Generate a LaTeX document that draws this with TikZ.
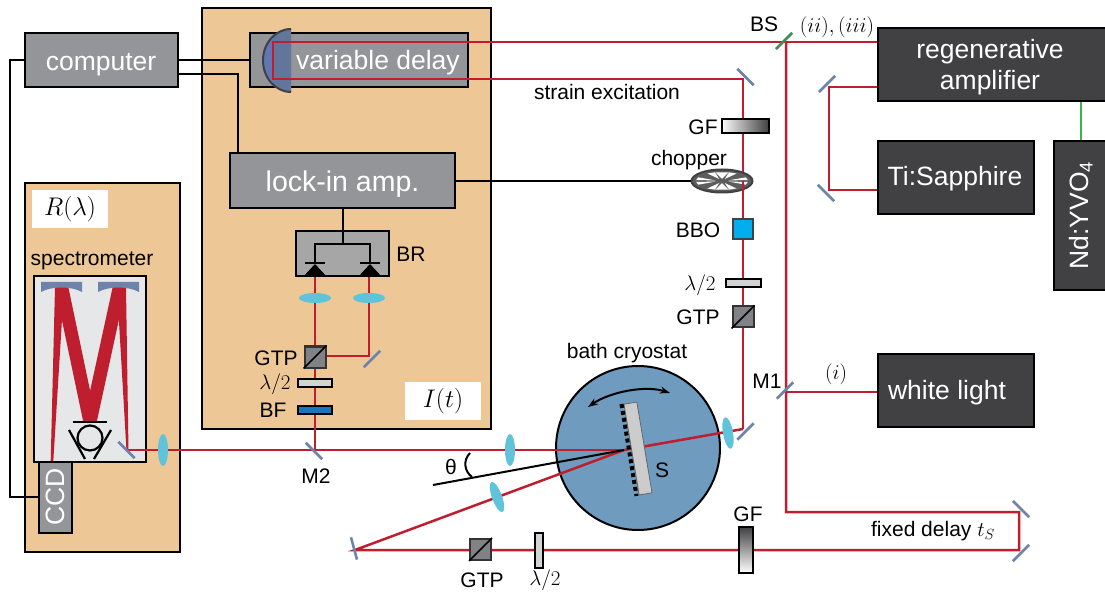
\documentclass[tikz,border=0pt]{standalone}
\usepackage{fix-cm}
\usepackage{fontspec}
\setmainfont{Liberation Sans}
\usetikzlibrary{shapes.geometric,arrows.meta}

\definecolor{panelorange}{HTML}{EDC896}
\definecolor{boxgray}{HTML}{939598}
\definecolor{boxdark}{HTML}{414042}
\definecolor{beamred}{HTML}{BE1E2D}
\definecolor{mirrorblue}{HTML}{6D83AC}
\definecolor{lenscyan}{HTML}{5FC3DA}
\definecolor{cryoblue}{HTML}{6F9BBF}
\definecolor{specgray}{HTML}{E6E7E8}
\definecolor{platelight}{HTML}{D1D3D4}
\definecolor{cubegray}{HTML}{808285}
\definecolor{pumpgreen}{HTML}{39B54A}
\definecolor{splitgreen}{HTML}{3E8E4E}
\definecolor{filterblue}{HTML}{1B75BC}
\definecolor{bbocyan}{HTML}{00AEEF}

\tikzset{
  panel/.style={draw=black, line width=2pt, fill=panelorange, inner sep=0pt},
  graybox/.style={draw=black, line width=2pt, fill=boxgray, inner sep=0pt, text=white,
    font=\fontsize{26.5}{31}\selectfont},
  darkbox/.style={draw=black, line width=2pt, fill=boxdark, inner sep=0pt, text=white,
    align=center, font=\fontsize{26.5}{31}\selectfont},
  boxtext/.style={text=white, align=center, inner sep=0pt, font=\fontsize{26.5}{31.5}\selectfont},
  whitebox/.style={fill=white, inner sep=0pt, font=\fontsize{25.5}{29}\selectfont},
  lbl/.style={inner sep=0pt, font=\fontsize{21}{25}\selectfont},
  beam/.style={draw=beamred, line width=2.5pt},
  wire/.style={draw=black, line width=2pt},
  mirror/.style={fill=mirrorblue, inner sep=0pt, minimum width=23pt, minimum height=2.6pt},
  lens/.style={ellipse, fill=lenscyan, inner sep=0pt, minimum width=32pt, minimum height=10pt},
  plate/.style={draw=black, line width=2pt, fill=platelight, inner sep=0pt},
  cube/.style={draw=black!80, line width=2pt, fill=cubegray, inner sep=0pt,
    minimum width=21pt, minimum height=21pt},
}

\begin{document}
\begin{tikzpicture}[x=1pt, y=-1pt]
    \clip (0,0) rectangle (1105,593);

    % ===== PANOURI =====
    \node[panel, minimum width=289pt, minimum height=421pt] (timePanel) at (346.5,218.5) {};
    \node[panel, minimum width=155pt, minimum height=369pt] (specPanel) at (102.5,367.5) {};
    \node[whitebox, minimum width=76pt, minimum height=38pt] (rLabel) at (70,209) {$R(\lambda)$};
    \node[whitebox, minimum width=76pt, minimum height=38pt] (iLabel) at (443,401) {$I(t)$};

    % ===== CUTII =====
    \node[graybox, minimum width=153pt, minimum height=54pt] (computer) at (101.5,60) {};
    \node[boxtext] (computerText) at (101,65) {computer};
    \node[graybox, minimum width=218pt, minimum height=54pt] (delayBox) at (359,60) {};
    \node[graybox, minimum width=225pt, minimum height=55pt] (lockin) at (342.5,180.5) {};
    \node[boxtext, font=\fontsize{28.5}{33}\selectfont] (lockinText) at (342.5,184) {lock-in amp.};
    \node[darkbox, minimum width=240pt, minimum height=73pt] (amp) at (998,64.5) {};
    \node[boxtext] (ampText) at (990,67) {regenerative\\amplifier};
    \node[darkbox, minimum width=156pt, minimum height=73pt] (tisa) at (956,177.5) {};
    \node[boxtext] (tisaText) at (955,178.5) {Ti:Sapphire};
    \node[darkbox, minimum width=70pt, minimum height=149pt] (ndyvo) at (1089,215.5) {};
    \node[boxtext, rotate=90] (ndText) at (1081,215.5) {Nd:YVO\textsubscript{4}};
    \node[darkbox, minimum width=156pt, minimum height=73pt] (white) at (956,390.5) {};
    \node[boxtext] (whiteText) at (947,392.5) {white light};

    % oglinda retro din variable delay
    \coordinate (retroTop) at (291,29);
    \fill[mirrorblue!90!blue] (retroTop) arc[start angle=270, end angle=90, x radius=28, y radius=31.5] -- cycle;
    \begin{scope}
      \clip (274,25) rectangle (291,96);
      \fill[mirrorblue!90!black] (retroTop) arc[start angle=270, end angle=90, x radius=28, y radius=31.5] -- cycle;
    \end{scope}
    \draw[draw=boxdark, line width=2pt] (retroTop) arc[start angle=270, end angle=90, x radius=28, y radius=31.5];
    \node[boxtext] (delayText) at (378,62.5) {variable delay};

    % ===== CRIOSTAT =====
    \node[circle, draw=black, line width=2pt, fill=cryoblue, minimum size=164pt, inner sep=0pt] (cryostat) at (638,448) {};
    \node[lbl] (cryoText) at (627,353) {bath cryostat};

    % ===== SPECTROMETRU =====
    \node[draw=black, line width=2pt, fill=specgray, minimum width=112pt, minimum height=186pt, inner sep=0pt] (spec) at (90,369) {};
    \node[lbl] (specText) at (92,261) {spectrometer};
    \node[graybox, minimum width=33pt, minimum height=71pt] (ccd) at (55.5,497.5) {};
    \node[boxtext, rotate=90] (ccdText) at (55.5,497) {CCD};

    % fascicul larg in spectrometru
    \fill[beamred] (55,287) -- (64,287) -- (53.3,461) -- (50.7,461) -- cycle;
    \fill[beamred] (55,287) -- (68.3,287) -- (96.7,422) -- (83.3,422) -- cycle;
    \fill[beamred] (112.7,287) -- (126,287) -- (96.7,422) -- (83.3,422) -- cycle;
    \fill[beamred] (117,287) -- (126,287) -- (128.5,451) -- (126.5,451) -- cycle;

    % oglinzi concave
    \foreach \mx in {61.5,118.5} {
      \fill[mirrorblue] (\mx-20.5,282) -- (\mx+20.5,282) -- (\mx+20.5,292)
        .. controls (\mx+10,286) and (\mx-10,286) .. (\mx-20.5,292) -- cycle;
    }

    % grating-uri
    \draw[line width=2.2pt] (90,438) circle[radius=12.5];
    \draw[line width=2.2pt] (73,422) -- (107,422);
    \draw[line width=2.2pt] (69,430) -- (85,459);
    \draw[line width=2.2pt] (111,430) -- (94,459);

    % ===== FASCICULE =====
    \coordinate (ampTop) at (amp.west |- 0,42);
    \coordinate (retroA) at (273,42);
    \coordinate (retroB) at (273,79);
    \coordinate (pumpTop) at (743,79);
    \coordinate (pumpChop) at (743,181);
    \coordinate (pumpBot) at (743,429);
    \coordinate (samplePt) at (624,450);
    \coordinate (splitBS) at (786,42);
    \coordinate (fixedA) at (786,512);
    \coordinate (fixedB) at (1019,512);
    \coordinate (fixedC) at (1019,550);
    \coordinate (probeL) at (355,550);
    \coordinate (ampLow) at (amp.west |- 0,87);
    \coordinate (regenA) at (829,87);
    \coordinate (regenB) at (829,190);
    \coordinate (tisaOut) at (tisa.west |- 0,190);
    \coordinate (whiteOut) at (white.west |- 0,392);
    \coordinate (whiteM) at (786,392);
    \coordinate (specIn) at (128,450);
    \coordinate (splitM2) at (315,450);
    \coordinate (diodeL) at (315,276);
    \coordinate (diodeR) at (369,276);
    \coordinate (gtpL) at (315,356);
    \coordinate (gtpR) at (369,356);

    \draw[beam] (ampTop) -- (retroA) -- (retroB) -- (pumpTop) -- (pumpChop);
    \draw[beam] (ampLow) -- (regenA) -- (regenB) -- (tisaOut);
    \draw[beam] (splitBS) -- (fixedA) -- (fixedB) -- (fixedC) -- (probeL) -- (samplePt);
    \draw[beam] (whiteOut) -- (whiteM);
    \draw[beam] (samplePt) -- (specIn);
    \draw[beam] (splitM2) -- (diodeL);
    \draw[beam] (gtpL) -- (gtpR) -- (diodeR);
    \draw[beam] (pumpBot) -- (samplePt);

    % pompa laser
    \draw[draw=pumpgreen, line width=2.8pt] (amp.south -| ndText) -- (ndyvo.north -| ndText);

    % ===== FIRE =====
    \coordinate (compLeft) at (10,60);
    \coordinate (compDown) at (10,497);
    \coordinate (compRight) at (238,74);
    \draw[wire] (computer.west) -- (compLeft) -- (compDown) -- (ccd.west |- compDown);
    \draw[wire] (computer.east) -- (delayBox.west);
    \draw[wire] (computer.east |- compRight) -- (compRight) -- (compRight |- lockin.north);

    \node[draw=black, line width=2pt, fill=black!35, minimum width=93pt, minimum height=45pt, inner sep=0pt] (balanced) at (342.5,253.5) {};
    \node[lbl] (brText) at (411,254) {BR};
    \coordinate (brJoin) at (342.5,244);
    \draw[wire] (lockin.south) -- (brJoin);
    \draw[wire] (315,263) |- (brJoin) -| (370,263);
    \foreach \dx in {315,370} {
      \fill[black] (\dx,264) -- (\dx+12,277) -- (\dx-12,277) -- cycle;
      \draw[wire] (\dx-10,263) -- (\dx+10,263);
    }

    % ===== PROBA =====
    \node[rotate=9.5, fill=black!20, draw=black!60, line width=.8pt, minimum width=13pt, minimum height=92pt, inner sep=0pt] (sample) at (638,448.5) {};
    \draw[black, line width=4pt, dash pattern=on 4pt off 3pt] (621.5,404) -- (636.5,496);
    \node[lbl] (sampleText) at (662,470) {S};
    \draw[wire] (433,485) -- (samplePt);
    \draw[line width=2pt, {Stealth[length=10pt,width=7pt]}-{Stealth[length=10pt,width=7pt]}] (588,407)
      .. controls (610,392) and (645,385) .. (670,393);
    \draw[line width=2pt] (470,453) .. controls (463,460) and (464,471) .. (472,477);
    \node[lbl] (thetaText) at (451,467) {θ};

    % ===== OGLINZI =====
    \foreach \nume/\px/\py/\unghi in {mirA/827/84/45, mirB/826/193/-45, mirC/745.5/77/-45,
        mirD/745.5/431.5/45, mirM1/785/390.5/45, mirE/1021/509/-45, mirF/1021/553/45,
        mirG/354/548.5/-75, mirM2/314/451/-45, mirH/372/359/45, mirI/126.5/450/-45} {
      \node[mirror, rotate=\unghi] (\nume) at (\px,\py) {};
    }
    \node[mirror, rotate=45, fill=splitgreen] (splitter) at (784,41) {};

    % ===== LENTILE =====
    \foreach \nume/\px/\py/\unghi in {lensA/315/298/0, lensB/369/298/0, lensC/163/450/90,
        lensD/510/450/90, lensE/497/497/110} {
      \node[lens, rotate=\unghi] (\nume) at (\px,\py) {};
    }

    % ===== POLARIZARE =====
    \foreach \nume/\px/\py in {cubeA/315/357, cubeC/480.5/549.5} {
      \node[cube] (\nume) at (\px,\py) {};
      \draw[black, line width=1.6pt] (\nume.south west) -- (\nume.north east);
    }
    \node[plate, minimum width=34pt, minimum height=8pt] (plateA) at (315,383) {};
    \node[plate, fill=filterblue, minimum width=34pt, minimum height=8pt] (bandFilter) at (315,409.5) {};
    \node[plate, minimum width=8pt, minimum height=35pt] (plateC) at (538.5,550) {};
    \node[draw=black, line width=2pt, left color=white, right color=boxdark, minimum width=47pt, minimum height=14pt, inner sep=0pt] (gfTop) at (745,126) {};
    \node[draw=black, line width=2pt, top color=boxdark, bottom color=white, minimum width=14pt, minimum height=46pt, inner sep=0pt] (gfBot) at (746,550) {};

    % ===== CHOPPER =====
    \node[ellipse, draw=boxdark, line width=2pt, fill=boxdark!85, minimum width=61pt, minimum height=23pt, inner sep=0pt] (chopper) at (722,181) {};
    \begin{scope}[shift={(722,181)}, xscale=26, yscale=9]
      \foreach \ang in {15,65,115,165,195,245,295,345} {
        \fill[white] (\ang:0.25) -- (\ang-9:1) -- (\ang+9:1) -- cycle;
      }
      \fill[white] (90:0.25) -- (75:1) -- (105:1) -- cycle;
      \fill[white] (270:0.25) -- (255:1) -- (285:1) -- cycle;
    \end{scope}
    \draw[wire] (lockin.east |- chopper.west) -- (chopper.west);

    % de la chopper in jos fasciculul trece peste
    \draw[beam] (pumpChop) -- (pumpBot);
    \node[plate, minimum width=35pt, minimum height=8pt] (plateB) at (743,283.5) {};
    \node[draw=boxdark, line width=2pt, fill=bbocyan, minimum width=20pt, minimum height=20pt, inner sep=0pt] (bbo) at (743,229) {};
    \node[cube] (cubeB) at (743,317) {};
    \draw[black, line width=1.6pt] (cubeB.south west) -- (cubeB.north east);
    \node[lens, rotate=100] (lensF) at (728,433) {};

    % ===== ETICHETE =====
    \node[lbl] (stText) at (607,92) {strain excitation};
    \node[lbl] (gfText) at (703,127) {GF};
    \node[lbl] (chText) at (689,160) {chopper};
    \node[lbl] (bboText) at (698,230) {BBO};
    \node[lbl] (lamText) at (700,285) {$\lambda/2$};
    \node[lbl] (gtpText) at (698,317) {GTP};
    \node[lbl] (gtp2Text) at (276,358) {GTP};
    \node[lbl] (lam2Text) at (275,384) {$\lambda/2$};
    \node[lbl] (bfText) at (273,410) {BF};
    \node[lbl] (m2Text) at (316,476) {M2};
    \node[lbl] (m1Text) at (767,381) {M1};
    \node[lbl] (bsText) at (764,24) {BS};
    \node[lbl] (iiText) at (837,27) {$(ii),(iii)$};
    \node[lbl] (iText) at (836,374) {$(i)$};
    \node[lbl] (gtp3Text) at (482,580) {GTP};
    \node[lbl] (lam3Text) at (545,580) {$\lambda/2$};
    \node[lbl] (gf2Text) at (748,514) {GF};
    \node[lbl] (fixText) at (933,531) {fixed delay $t_S$};
  \end{tikzpicture}
\end{document}
